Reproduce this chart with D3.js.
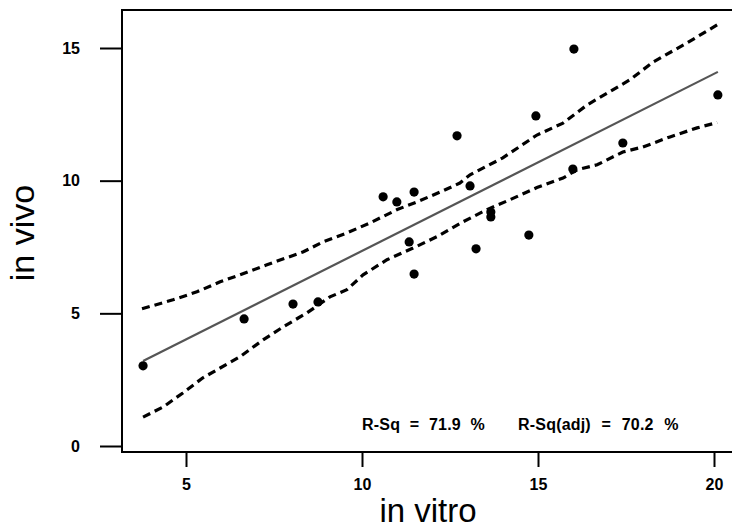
<!DOCTYPE html>
<html>
<head>
<meta charset="utf-8">
<script src="https://cdn.jsdelivr.net/npm/d3@7"></script>
<style>
  body { margin: 0; background: #fff; }
  text { font-family: "Liberation Sans", Arial, sans-serif; fill: #000; }
</style>
</head>
<body>
<div id="chart"></div>
<script>
// observed points
const vitro = [3.78, 6.65, 8.04, 8.75, 10.60, 10.99, 11.48, 11.34, 11.48, 12.70, 13.07, 13.24, 13.66, 13.66, 14.74, 14.94, 15.99, 16.02, 17.41, 20.11];
const vivo = [3.02, 4.79, 5.35, 5.43, 9.39, 9.20, 9.57, 7.69, 6.48, 11.69, 9.80, 7.43, 8.82, 8.63, 7.95, 12.44, 10.44, 14.96, 11.42, 13.23];

// fitted line end points
const fitX = [3.78, 20.11];
const fitY = [3.2, 14.1];

// confidence band
const upperX = [3.75, 4.63, 5.31, 5.97, 6.53, 7.30, 7.59, 8.32, 8.89, 9.57, 10.23, 11.0, 11.56, 12.22, 12.78, 13.07, 14.0, 14.97, 15.71, 16.39, 17.61, 18.27, 19.23, 20.09];
const upperY = [5.17, 5.51, 5.81, 6.19, 6.45, 6.83, 6.97, 7.31, 7.69, 8.03, 8.41, 8.91, 9.2, 9.57, 9.91, 10.22, 10.86, 11.72, 12.17, 12.85, 13.80, 14.47, 15.19, 15.87];
const lowerX = [3.78, 4.35, 4.91, 5.48, 5.97, 6.53, 7.19, 7.76, 8.44, 9.09, 9.57, 10.03, 10.71, 11.45, 12.13, 12.87, 13.55, 14.2, 14.97, 15.71, 16.11, 16.68, 17.41, 17.98, 18.75, 19.52, 20.09];
const lowerY = [1.09, 1.47, 2.0, 2.57, 2.94, 3.36, 4.0, 4.49, 5.02, 5.62, 5.89, 6.45, 7.02, 7.46, 7.89, 8.45, 8.91, 9.28, 9.74, 10.10, 10.41, 10.6, 11.08, 11.27, 11.65, 11.99, 12.19];

const xTicks = [5, 10, 15, 20];
const yTicks = [0, 5, 10, 15];
const rsqLabel = "R-Sq = 71.9 %";
const rsqAdjLabel = "R-Sq(adj) = 70.2 %";

const W = 732, H = 530;
const frame = { left: 122, top: 10, bottom: 452, right: 745 };

const svg = d3.select("#chart").append("svg")
    .attr("width", W)
    .attr("height", H);

const x = d3.scaleLinear().domain([5, 20]).range([186, 714]);
const y = d3.scaleLinear().domain([0, 15]).range([446, 48]);

/* frame */
svg.append("rect")
    .attr("x", frame.left)
    .attr("y", frame.top)
    .attr("width", frame.right - frame.left)
    .attr("height", frame.bottom - frame.top)
    .attr("fill", "none")
    .attr("stroke", "#000")
    .attr("stroke-width", 2);

/* X-axis */
const xAxis = svg.append("g")
    .attr("transform", `translate(0, ${frame.bottom})`)
    .call(d3.axisBottom(x).tickValues(xTicks).tickSize(15).tickPadding(12).tickFormat(d3.format("d")));
xAxis.select(".domain").remove();
xAxis.selectAll("line").attr("stroke-width", 2);
xAxis.selectAll("text")
    .attr("font-size", 16)
    .attr("font-weight", "bold")
    .attr("font-family", "Liberation Sans, Arial, sans-serif");

/* Y-axis */
const yAxis = svg.append("g")
    .attr("transform", `translate(${frame.left}, 0)`)
    .call(d3.axisLeft(y).tickValues(yTicks).tickSize(22).tickPadding(20).tickFormat(d3.format("d")));
yAxis.select(".domain").remove();
yAxis.selectAll("line").attr("stroke-width", 2);
yAxis.selectAll("text")
    .attr("font-size", 16)
    .attr("font-weight", "bold")
    .attr("font-family", "Liberation Sans, Arial, sans-serif");

/* axis titles */
svg.append("text")
    .attr("x", (frame.left + 722) / 2 + 6)
    .attr("y", 522)
    .attr("text-anchor", "middle")
    .attr("font-size", 33)
    .text("in vitro");

svg.append("text")
    .attr("transform", "rotate(-90)")
    .attr("x", -233)
    .attr("y", 34)
    .attr("text-anchor", "middle")
    .attr("font-size", 34)
    .text("in vivo");

/* band + fit */
const line = d3.line().x(d => x(d[0])).y(d => y(d[1]));

svg.append("path")
    .datum(upperX.map((v, i) => [v, upperY[i]]))
    .attr("d", line)
    .attr("fill", "none")
    .attr("stroke", "#000")
    .attr("stroke-width", 3.2)
    .attr("stroke-dasharray", "8,5");

svg.append("path")
    .datum(lowerX.map((v, i) => [v, lowerY[i]]))
    .attr("d", line)
    .attr("fill", "none")
    .attr("stroke", "#000")
    .attr("stroke-width", 3.2)
    .attr("stroke-dasharray", "8,5");

svg.append("path")
    .datum(fitX.map((v, i) => [v, fitY[i]]))
    .attr("d", line)
    .attr("fill", "none")
    .attr("stroke", "#555")
    .attr("stroke-width", 2.2);

/* points */
svg.selectAll("circle.pt")
    .data(vitro.map((v, i) => [v, vivo[i]]))
    .enter()
    .append("circle")
    .attr("class", "pt")
    .attr("cx", d => x(d[0]))
    .attr("cy", d => y(d[1]))
    .attr("r", 4.6)
    .attr("fill", "#000");

/* R-Sq labels */
svg.append("text")
    .attr("x", 362)
    .attr("y", 430)
    .attr("font-size", 16)
    .attr("font-weight", "bold")
    .attr("letter-spacing", 0.2)
    .attr("word-spacing", 5)
    .text(rsqLabel);

svg.append("text")
    .attr("x", 518)
    .attr("y", 430)
    .attr("font-size", 16)
    .attr("font-weight", "bold")
    .attr("letter-spacing", 0.2)
    .attr("word-spacing", 6)
    .text(rsqAdjLabel);
</script>
</body>
</html>
